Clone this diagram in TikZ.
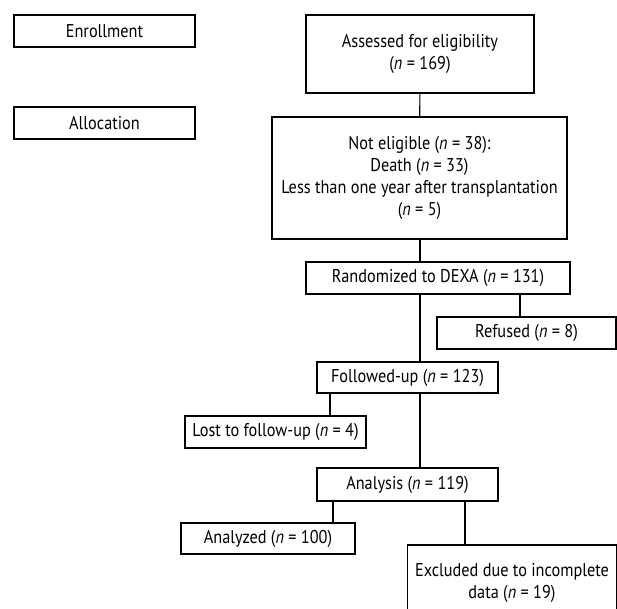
\documentclass[tikz,border=0pt]{standalone}
\usepackage{fontspec}
\setmainfont{PT Sans}[FakeStretch=0.88]
\usetikzlibrary{positioning,calc}
\tikzset{
    %Define style for boxes
    stage/.style={
        rectangle,
        draw=black, line width=1.1pt,
        align=center,
        inner sep=0pt,
        font=\fontsize{18.5}{22}\selectfont,
    },
    link/.style={
        draw=black, line width=1.1pt,
    },
}
\newcommand{\nn}{\textit{n}}

\begin{document}
\begin{tikzpicture}[x=1pt,y=-1pt]
	\useasboundingbox (0,0) rectangle (617,608);
	% side labels
	\node[stage,minimum width=181pt,minimum height=32pt] (Enroll) at (104.5,31) {Enrollment};
	\node[stage,minimum width=181pt,minimum height=32pt] (Alloc) at (104.5,123) {Allocation};

	% main flow
	\node[stage,minimum width=228pt,minimum height=78pt] (Assessed) at (420,54) {Assessed for eligibility\\(\nn{} = 169)};
	\node[stage,minimum width=295pt,minimum height=122pt] (Noteligible) at (419.5,178) {Not eligible (\nn{} = 38):\\Death (\nn{} = 33)\\Less than one year after transplantation\\(\nn{} = 5)};
	\node[stage,minimum width=264pt,minimum height=32pt] (Random) at (438,278) {Randomized to DEXA (\nn{} = 131)};
	\node[stage,minimum width=179pt,minimum height=32pt] (Refused) at (526.5,333) {Refused (\nn{} = 8)};
	\node[stage,minimum width=181pt,minimum height=31pt] (Followed) at (407.5,377.5) {Followed-up (\nn{} = 123)};
	\node[stage,minimum width=181pt,minimum height=32pt] (Lost) at (275.5,432) {Lost to follow-up (\nn{} = 4)};
	\node[stage,minimum width=181pt,minimum height=33pt] (Analysis) at (407.5,484.5) {Analysis (\nn{} = 119)};
	\node[stage,minimum width=174pt,minimum height=31pt] (Analyzed) at (268,538.5) {Analyzed (\nn{} = 100)};
	\node[stage,minimum width=209pt,minimum height=75pt] (Excluded) at (512,582.5) {Excluded due to incomplete\\data (\nn{} = 19)};

	% connectors
	\coordinate (spine) at (420,0);
	\coordinate (toRef) at (520,0);
	\coordinate (toLost) at (330,0);
	\coordinate (toAna) at (333,0);
	\coordinate (toExc) at (465,0);
	\draw[link] (Assessed) -- (Noteligible);
	\draw[link] (Noteligible.south -| spine) -- (Random.north -| spine);
	\draw[link] (Random.south -| spine) -- (Followed.north -| spine);
	\draw[link] (Random.south -| toRef) -- (Refused.north -| toRef);
	\draw[link] (Followed.south -| spine) -- (Analysis.north -| spine);
	\draw[link] (Followed.south -| toLost) -- (Lost.north -| toLost);
	\draw[link] (Analysis.south -| toAna) -- (Analyzed.north -| toAna);
	\draw[link] (Analysis.south -| toExc) -- (Excluded.north -| toExc);
\end{tikzpicture}
\end{document}
